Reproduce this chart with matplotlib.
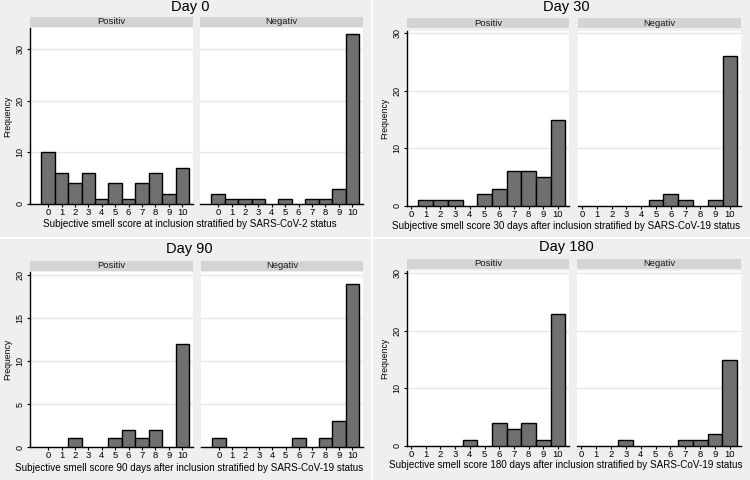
import matplotlib.pyplot as plt

plt.rcParams["font.family"] = ["Liberation Sans", "DejaVu Sans"]

scores = list(range(11))
titles = ["Day 0", "Day 30", "Day 90", "Day 180"]
xlabels = [
    "Subjective smell score at inclusion stratified by SARS-CoV-2 status",
    "Subjective smell score 30 days after inclusion stratified by SARS-CoV-19 status",
    "Subjective smell score 90 days after inclusion stratified by SARS-CoV-19 status",
    "Subjective smell score 180 days after inclusion stratified by SARS-CoV-19 status",
]
groups = ["Positiv", "Negativ"]

pos_day0 = [10, 6, 4, 6, 1, 4, 1, 4, 6, 2, 7]
neg_day0 = [2, 1, 1, 1, 0, 1, 0, 1, 1, 3, 33]
pos_day30 = [0, 1, 1, 1, 0, 2, 3, 6, 6, 5, 15]
neg_day30 = [0, 0, 0, 0, 0, 1, 2, 1, 0, 1, 26]
pos_day90 = [0, 0, 1, 0, 0, 1, 2, 1, 2, 0, 12]
neg_day90 = [1, 0, 0, 0, 0, 0, 1, 0, 1, 3, 19]
pos_day180 = [0, 0, 0, 0, 1, 0, 4, 3, 4, 1, 23]
neg_day180 = [0, 0, 0, 1, 0, 0, 0, 1, 1, 2, 15]

W, H = 750, 480
fig = plt.figure(figsize=(7.5, 4.8), dpi=100, facecolor="#efefef")

BAR = "#707070"
GRID = "#e6e6e6"
STRIP = "#d4d4d4"


def px_axes(x0, x1, ytop, ybot):
    return fig.add_axes([x0 / W, 1 - ybot / H, (x1 - x0) / W, (ybot - ytop) / H])


# layout in pixels: panels, plot top/bottom, strip top, title y, xlabel y, text centre x, ylim, xlim, yticks
layouts = [
    dict(panels=[(30, 193), (200, 363)], top=28, bot=204, strip=17, ty=7, xl=224, xc=190,
         ymax=34.1, xlim=(-1.35, 10.8), yticks=[0, 10, 20, 30]),
    dict(panels=[(407, 569), (578, 741)], top=31, bot=206, strip=18, ty=7, xl=226, xc=566,
         ymax=30.4, xlim=(-0.28, 10.75), yticks=[0, 10, 20, 30]),
    dict(panels=[(30, 193), (201, 363)], top=272, bot=447, strip=261, ty=249, xl=468, xc=189,
         ymax=20.35, xlim=(-1.35, 10.8), yticks=[0, 5, 10, 15, 20]),
    dict(panels=[(407, 569), (577, 741)], top=271, bot=446, strip=259, ty=247, xl=465, xc=566,
         ymax=30.4, xlim=(-0.28, 10.75), yticks=[0, 10, 20, 30]),
]
data = [(pos_day0, neg_day0), (pos_day30, neg_day30),
        (pos_day90, neg_day90), (pos_day180, neg_day180)]

# faint separators between the four images
fig.add_artist(plt.Line2D([372 / W, 372 / W], [0, 1], color="white", lw=1.5))
fig.add_artist(plt.Line2D([0, 1], [1 - 238 / H, 1 - 238 / H], color="white", lw=1.5))

for q in range(4):
    L = layouts[q]
    for k, (x0, x1) in enumerate(L["panels"]):
        ax = px_axes(x0, x1, L["top"], L["bot"])
        vals = data[q][k]
        xs = [s for s, v in zip(scores, vals) if v > 0]
        hs = [v for v in vals if v > 0]
        ax.bar(xs, hs, width=1.0, color=BAR, edgecolor="black", linewidth=1.0, zorder=3)
        ax.set_xlim(*L["xlim"])
        ax.set_ylim(0, L["ymax"])
        ax.set_yticks(L["yticks"])
        ax.set_xticks(scores)
        ax.grid(axis="y", color=GRID, lw=1.0, zorder=0)
        for s in ["top", "right"]:
            ax.spines[s].set_visible(False)
        ax.spines["bottom"].set_linewidth(1.0)
        ax.tick_params(axis="x", length=2, width=0.8, labelsize=6.8, pad=1)
        if k == 0:
            ax.spines["left"].set_linewidth(1.0)
            ax.tick_params(axis="y", length=2.5, width=0.8, labelsize=6.5, pad=1.5)
            for t in ax.get_yticklabels():
                t.set_rotation(90)
                t.set_va("center")
            ax.set_ylabel("Frequency", fontsize=6.2, labelpad=2)
        else:
            ax.spines["left"].set_visible(False)
            ax.tick_params(axis="y", length=0, labelleft=False)

        # strip header
        sax = px_axes(x0, x1, L["strip"], L["strip"] + 10)
        sax.set_facecolor(STRIP)
        sax.set_xticks([])
        sax.set_yticks([])
        for s in sax.spines.values():
            s.set_visible(False)
        sax.text(0.5, 0.5, groups[k], ha="center", va="center", fontsize=6.8,
                 transform=sax.transAxes, color="#1a1a1a")

    fig.text(L["xc"] / W, 1 - L["ty"] / H, titles[q], ha="center", va="center", fontsize=10.5)
    fig.text(L["xc"] / W, 1 - L["xl"] / H, xlabels[q], ha="center", va="center", fontsize=7.1)

fig.savefig("out.png", dpi=100, facecolor=fig.get_facecolor())
